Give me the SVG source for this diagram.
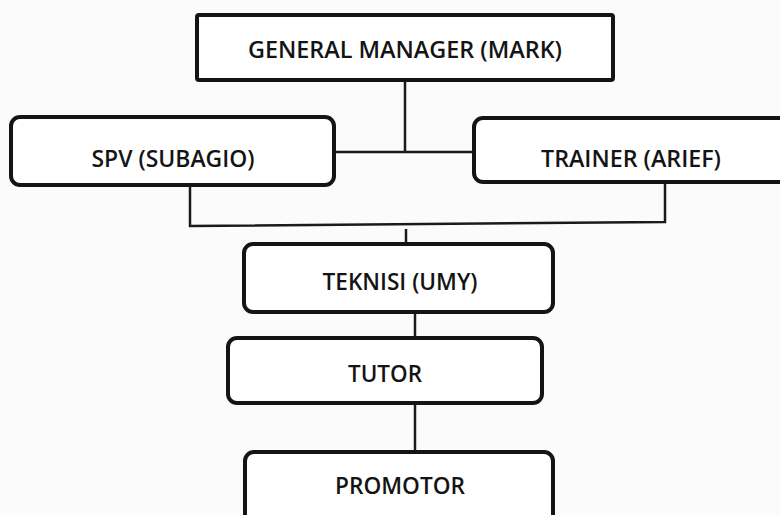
<svg xmlns="http://www.w3.org/2000/svg" width="780" height="515" viewBox="0 0 780 515">
  <style>
    .box { fill: #ffffff; stroke: #141414; stroke-width: 4; }
    .link { fill: none; stroke: #1a1a1a; stroke-width: 2.5; }
    .label { font-family: "Open Sans", "Liberation Sans", sans-serif; font-weight: 600; font-size: 24px; fill: #141414; text-anchor: middle; }
  </style>
  <rect width="780" height="515" fill="#fbfbfb"/>

  <!-- connectors -->
  <g id="connectors">
    <line class="link" x1="405" y1="80" x2="405" y2="152"/>
    <line class="link" x1="334" y1="152" x2="474" y2="152"/>
    <polyline class="link" points="190,186 190,226 665,222 665,182"/>
    <line class="link" x1="406" y1="229" x2="406" y2="245"/>
    <line class="link" x1="415" y1="312" x2="415" y2="338"/>
    <line class="link" x1="415" y1="403" x2="415" y2="452"/>
  </g>

  <g id="gm">
    <rect class="box" x="197" y="15" width="416" height="65" rx="2"/>
    <text class="label" x="405" y="58" textLength="314" lengthAdjust="spacingAndGlyphs">GENERAL MANAGER (MARK)</text>
  </g>

  <g id="spv">
    <rect class="box" x="11" y="117" width="323" height="68" rx="9"/>
    <text class="label" x="173" y="167" textLength="163" lengthAdjust="spacingAndGlyphs">SPV (SUBAGIO)</text>
  </g>

  <g id="trainer">
    <rect class="box" x="474" y="118" width="320" height="64" rx="9"/>
    <text class="label" x="631" y="167" textLength="180" lengthAdjust="spacingAndGlyphs">TRAINER (ARIEF)</text>
  </g>

  <g id="teknisi">
    <rect class="box" x="244" y="244" width="309" height="68" rx="9"/>
    <text class="label" x="400" y="290" textLength="155" lengthAdjust="spacingAndGlyphs">TEKNISI (UMY)</text>
  </g>

  <g id="tutor">
    <rect class="box" x="228" y="338" width="314" height="65" rx="9"/>
    <text class="label" x="385" y="382" textLength="74" lengthAdjust="spacingAndGlyphs">TUTOR</text>
  </g>

  <g id="promotor">
    <rect class="box" x="245" y="452" width="308" height="80" rx="9"/>
    <text class="label" x="400" y="494" textLength="130" lengthAdjust="spacingAndGlyphs">PROMOTOR</text>
  </g>
</svg>
